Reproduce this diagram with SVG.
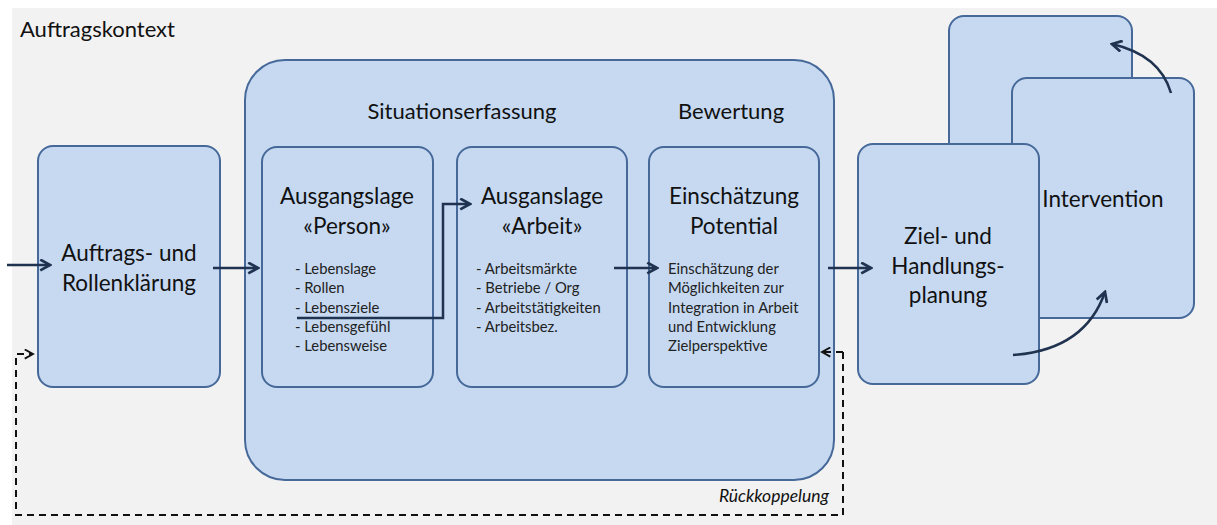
<svg xmlns="http://www.w3.org/2000/svg" width="1217" height="525" viewBox="0 0 1217 525">
<style>
.box{fill:#c6d9f1;stroke:#46699a;stroke-width:2}
.t{font-family:Lato,"Liberation Sans",sans-serif;fill:#111}
.h{font-size:22.5px;text-anchor:middle}
.s{font-size:22px;text-anchor:middle}
.b{font-size:14.8px;fill:#222}
.con{fill:none;stroke:#1f3350;stroke-width:2.5}
.dash{fill:none;stroke:#111;stroke-width:2;stroke-dasharray:7 5}
</style>
<defs>
<marker id="ah" viewBox="0 0 12 12" refX="10" refY="6" markerWidth="13" markerHeight="13" markerUnits="userSpaceOnUse" orient="auto">
<path d="M1,1 L10,6 L1,11" fill="none" stroke="#1f3350" stroke-width="2.5"/>
</marker>
<marker id="ahd" viewBox="0 0 12 12" refX="10" refY="6" markerWidth="11" markerHeight="11" markerUnits="userSpaceOnUse" orient="auto">
<path d="M1,1 L10,6 L1,11" fill="none" stroke="#111" stroke-width="2"/>
</marker>
</defs>
<rect x="12" y="8" width="1205" height="517" fill="#f2f2f2"/>
<text class="t" x="20" y="37" font-size="22">Auftragskontext</text>

<g id="situation">
<rect class="box" x="245" y="60" width="589" height="420" rx="40"/>
<text class="t s" x="462" y="119">Situationserfassung</text>
<text class="t s" x="731" y="119">Bewertung</text>
</g>

<g id="auftrag">
<rect class="box" x="38" y="146" width="182" height="241" rx="15"/>
<text class="t h" x="129" y="261">Auftrags- und</text>
<text class="t h" x="129" y="291">Rollenklärung</text>
</g>

<g id="person">
<rect class="box" x="262" y="147" width="171" height="240" rx="15"/>
<text class="t h" x="347" y="204">Ausgangslage</text>
<text class="t h" x="347" y="234">«Person»</text>
<text class="t b" x="295" y="274">- Lebenslage</text>
<text class="t b" x="295" y="293">- Rollen</text>
<text class="t b" x="295" y="313">- Lebensziele</text>
<text class="t b" x="295" y="332">- Lebensgefühl</text>
<text class="t b" x="295" y="351">- Lebensweise</text>
</g>

<g id="arbeit">
<rect class="box" x="457" y="147" width="170" height="240" rx="15"/>
<text class="t h" x="542" y="204">Ausganslage</text>
<text class="t h" x="542" y="234">«Arbeit»</text>
<text class="t b" x="476" y="274">- Arbeitsmärkte</text>
<text class="t b" x="476" y="293">- Betriebe / Org</text>
<text class="t b" x="476" y="313">- Arbeitstätigkeiten</text>
<text class="t b" x="476" y="332">- Arbeitsbez.</text>
</g>

<g id="einschaetzung">
<rect class="box" x="649" y="147" width="170" height="240" rx="15"/>
<text class="t h" x="734" y="204">Einschätzung</text>
<text class="t h" x="734" y="234">Potential</text>
<text class="t b" x="668" y="274">Einschätzung der</text>
<text class="t b" x="668" y="293">Möglichkeiten zur</text>
<text class="t b" x="668" y="313">Integration in Arbeit</text>
<text class="t b" x="668" y="332">und  Entwicklung</text>
<text class="t b" x="668" y="351">Zielperspektive</text>
</g>

<g id="intervention">
<rect class="box" x="949" y="16" width="183" height="250" rx="15"/>
<rect class="box" x="1012" y="78" width="182" height="240" rx="15"/>
<text class="t h" x="1103" y="207">Intervention</text>
</g>

<g id="ziel">
<rect class="box" x="858" y="144" width="181" height="240" rx="15"/>
<text class="t h" x="948" y="244">Ziel- und</text>
<text class="t h" x="948" y="274">Handlungs-</text>
<text class="t h" x="948" y="303">planung</text>
</g>

<g id="connectors">
<line class="con" x1="7" y1="265" x2="50" y2="265" marker-end="url(#ah)"/>
<line class="con" x1="213" y1="268" x2="258" y2="268" marker-end="url(#ah)"/>
<path class="con" d="M297,318 H443 V204 H470" marker-end="url(#ah)"/>
<line class="con" x1="614" y1="268" x2="657" y2="268" marker-end="url(#ah)"/>
<line class="con" x1="828" y1="268" x2="871" y2="268" marker-end="url(#ah)"/>
<path class="con" d="M1013,355 Q1085,350 1105,292" marker-end="url(#ah)"/>
<path class="con" d="M1171,93 Q1160,55 1112,44" marker-end="url(#ah)"/>
<path class="dash" d="M843,352 H822" marker-end="url(#ahd)"/>
<path class="dash" d="M843,352 V515 H16 V354 H33" marker-end="url(#ahd)"/>
<text class="t" x="829" y="502" font-size="17.5" font-style="italic" text-anchor="end" fill="#222">Rückkoppelung</text>
</g>
</svg>
